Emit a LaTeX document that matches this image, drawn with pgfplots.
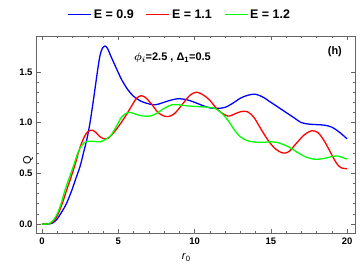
\documentclass[border=0pt]{standalone}
\usepackage{fontspec}
\setmainfont{Liberation Sans}
\usepackage{pgfplots}
\pgfplotsset{compat=1.18}
\begin{document}
\begin{tikzpicture}
\path[use as bounding box] (-36.5bp,-36.7bp) rectangle (323.5bp,233.3bp);
\begin{axis}[
  scale only axis, width=318.5bp, height=197.3bp,
  xmin=-0.36, xmax=20.52, ymin=-0.092, ymax=1.854,
  xtick={0,5,10,15,20}, ytick={0,0.5,1,1.5},
  minor x tick num=4, minor y tick num=4,
  yticklabels={0.0,0.5,1.0,1.5},
  tick align=inside, major tick length=4.5bp, minor tick length=2.5bp,
  axis line style={black!60, line width=0.6pt},
  every tick/.style={black!60, line width=0.5pt},
  tick label style={font=\bfseries\fontsize{9.5}{10}\selectfont},
  /pgf/number format/assume math mode=true,
  xticklabel style={yshift=-1bp},
  yticklabel style={xshift=-0.5bp},
  xlabel={\fontsize{11}{12}\selectfont\textit{r}\textsubscript{0}},
  ylabel={\fontsize{11}{12}\selectfont Q},
  xlabel style={at={(axis description cs:0.47,0)}, anchor=north, yshift=-17bp},
  ylabel style={at={(axis description cs:0,0.48)}, anchor=south, xshift=-22bp},
  legend columns=3,
  legend style={draw=none, fill=none, at={(axis description cs:0.45,1)}, anchor=south, yshift=12bp,
    font=\bfseries\fontsize{12.5}{13}\selectfont, /tikz/every even column/.append style={column sep=10bp}},
  legend image code/.code={\draw[#1, line width=1.3pt] (0bp,0bp) -- (23bp,0bp);},
]
\addplot[blue, line width=1.3pt, smooth, tension=0.5] coordinates {
(0,0) (0.4,0.0) (0.7,0.01) (1.0,0.05) (1.3,0.12) (1.6,0.2) (1.95,0.33) (2.2,0.44) (2.5,0.57) (2.75,0.72) (2.95,0.84) (3.15,1.0) (3.35,1.2) (3.5,1.36) (3.65,1.52) (3.8,1.66) (3.95,1.73) (4.13,1.755) (4.3,1.73) (4.5,1.66) (4.8,1.56) (5.2,1.43) (5.6,1.33) (6.0,1.26) (6.5,1.21) (7.0,1.185) (7.4,1.175) (7.8,1.19) (8.3,1.215) (8.9,1.235) (9.5,1.225) (10.0,1.2) (10.5,1.17) (11.0,1.145) (11.5,1.14) (12.0,1.15) (12.5,1.19) (13.0,1.24) (13.5,1.27) (14.0,1.28) (14.5,1.25) (15.0,1.2) (15.5,1.15) (16.0,1.1) (16.5,1.05) (17.0,1.0) (17.5,0.985) (18.0,0.98) (18.5,0.975) (19.0,0.955) (19.5,0.905) (20.0,0.84)
};
\addlegendentry{E = 0.9}
\addplot[red, line width=1.3pt, smooth, tension=0.5] coordinates {
(0,0) (0.4,0) (0.7,0.02) (1.0,0.08) (1.3,0.19) (1.62,0.335) (1.9,0.46) (2.16,0.58) (2.4,0.71) (2.6,0.80) (2.85,0.88) (3.05,0.915) (3.3,0.925) (3.55,0.9) (3.8,0.86) (4.1,0.84) (4.35,0.845) (4.7,0.9) (5.1,0.98) (5.5,1.07) (5.9,1.17) (6.2,1.24) (6.5,1.265) (6.8,1.245) (7.2,1.18) (7.6,1.1) (8.0,1.065) (8.3,1.06) (8.7,1.09) (9.2,1.18) (9.7,1.27) (10.15,1.30) (10.6,1.27) (11.0,1.22) (11.5,1.13) (12.0,1.075) (12.3,1.065) (12.7,1.09) (13.1,1.11) (13.5,1.105) (13.9,1.05) (14.3,0.95) (14.8,0.83) (15.3,0.74) (15.8,0.70) (16.2,0.715) (16.7,0.80) (17.2,0.88) (17.7,0.92) (18.1,0.9) (18.5,0.82) (18.9,0.71) (19.3,0.6) (19.6,0.555) (20.0,0.545)
};
\addlegendentry{E = 1.1}
\addplot[green, line width=1.3pt, smooth, tension=0.5] coordinates {
(0,0) (0.4,0) (0.7,0.03) (1.0,0.1) (1.25,0.2) (1.51,0.335) (1.8,0.46) (2.05,0.565) (2.3,0.68) (2.5,0.75) (2.75,0.8) (3.0,0.815) (3.4,0.815) (3.8,0.81) (4.1,0.83) (4.5,0.87) (4.9,0.97) (5.2,1.05) (5.5,1.09) (5.8,1.10) (6.2,1.08) (6.6,1.065) (7.1,1.065) (7.5,1.09) (8.0,1.14) (8.5,1.175) (9.0,1.175) (9.5,1.165) (10.0,1.16) (10.5,1.155) (11.0,1.15) (11.4,1.135) (11.8,1.09) (12.2,1.02) (12.6,0.93) (13.0,0.86) (13.4,0.825) (13.8,0.81) (14.4,0.805) (15.0,0.81) (15.4,0.805) (15.8,0.785) (16.3,0.75) (16.8,0.70) (17.3,0.66) (17.8,0.64) (18.2,0.64) (18.6,0.65) (19.0,0.665) (19.4,0.67) (19.8,0.65) (20.0,0.64)
};
\addlegendentry{E = 1.2}
\node[font=\bfseries\fontsize{11}{12}\selectfont] at (axis cs:8.55,1.64) {{\boldmath$\phi_i$}=2.5 , Δ\textsubscript{1}=0.5};
\node[font=\bfseries\fontsize{11}{12}\selectfont] at (axis cs:19.2,1.70) {(h)};
\end{axis}
\end{tikzpicture}
\end{document}
